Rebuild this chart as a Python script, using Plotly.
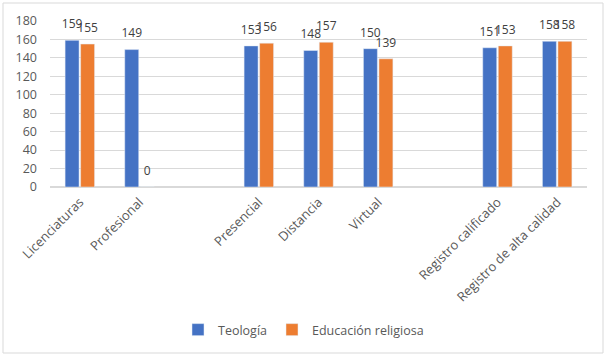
import plotly.graph_objects as go

categories = ["Licenciaturas", "Profesional", " ", "Presencial", "Distancia", "Virtual", "  ",
              "Registro calificado", "Registro de alta calidad"]
teologia = [159, 149, None, 153, 148, 150, None, 151, 158]
educacion = [155, 0, None, 156, 157, 139, None, 153, 158]
y_ticks = [0, 20, 40, 60, 80, 100, 120, 140, 160, 180]

FONT = "Open Sans"
W, H = 607, 357
ml, mr, mt, mb = 50, 20, 21, 170
pw, ph = W - ml - mr, H - mt - mb
BARGAP = 0.48

def lbl(vals):
    return [("" if v is None else str(v)) for v in vals]

fig = go.Figure()
series = [("Teología", teologia, "#4472C4"), ("Educación religiosa", educacion, "#ED7D31")]
for name, vals, col in series:
    fig.add_bar(name=name, x=categories, y=vals, marker=dict(color=col))
for name, vals, col in series:
    fig.add_scatter(x=categories, y=vals, mode="markers+text", text=lbl(vals),
                    textposition="top center", cliponaxis=False, showlegend=False,
                    hoverinfo="skip", marker=dict(size=13, color="rgba(0,0,0,0)"),
                    textfont=dict(color="#404040", size=12, family=FONT))

fig.update_layout(
    width=W, height=H,
    margin=dict(l=ml, r=mr, t=mt, b=mb),
    barmode="group", bargap=BARGAP, bargroupgap=0.1,
    scattermode="group", scattergap=BARGAP,
    plot_bgcolor="white", paper_bgcolor="white",
    font=dict(family=FONT, size=12, color="#595959"),
    xaxis=dict(type="category", tickangle=-45, showgrid=False, showline=False,
               ticks="", tickfont=dict(size=13, color="#595959"), ticklabelstandoff=4),
    yaxis=dict(range=[0, 180], tickvals=y_ticks, showgrid=True, gridcolor="#D9D9D9",
               gridwidth=1, zeroline=True, zerolinecolor="#D9D9D9", ticks="",
               tickfont=dict(size=12.5, color="#595959"), ticklabelstandoff=12),
    legend=dict(orientation="h", x=(W / 2 - ml) / pw, xanchor="center",
                y=(mt + ph - 330) / ph, yanchor="middle",
                font=dict(size=12.5, color="#595959"), itemwidth=30, tracegroupgap=0),
    showlegend=True,
)
fig.add_shape(type="rect", xref="paper", yref="paper",
              x0=(3 - ml) / pw, x1=(603 - ml) / pw,
              y0=(mt + ph - 353) / ph, y1=(mt + ph - 3) / ph,
              line=dict(color="#D9D9D9", width=1), fillcolor="rgba(0,0,0,0)", layer="below")

fig.write_html("out.html", config={"displayModeBar": False},
               post_script="document.body.style.margin='0';document.body.style.overflow='hidden';")
